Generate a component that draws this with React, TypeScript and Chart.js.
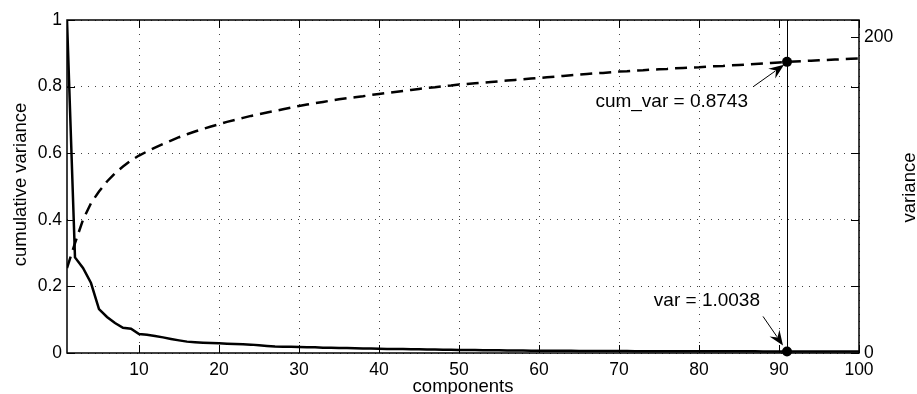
import React, { useEffect, useRef } from 'react';
import { Chart, registerables } from 'chart.js';

Chart.register(...registerables);

// ---- data ----
const components: number[] = Array.from({ length: 100 }, (_, i) => i + 1);

const cumulativeVariance: number[] = [
  0.255, 0.33, 0.4, 0.45, 0.485, 0.515, 0.54, 0.56, 0.578, 0.593,
  0.605, 0.617, 0.628, 0.638, 0.648, 0.657, 0.665, 0.673, 0.68, 0.687,
  0.694, 0.7, 0.706, 0.712, 0.717, 0.722, 0.727, 0.732, 0.737, 0.742,
  0.746, 0.75, 0.754, 0.758, 0.762, 0.765, 0.768, 0.771, 0.775, 0.778,
  0.781, 0.784, 0.787, 0.79, 0.793, 0.796, 0.798, 0.801, 0.803, 0.806,
  0.808, 0.81, 0.812, 0.814, 0.816, 0.818, 0.82, 0.822, 0.824, 0.826,
  0.828, 0.83, 0.832, 0.834, 0.836, 0.838, 0.84, 0.841, 0.843, 0.845,
  0.846, 0.848, 0.849, 0.851, 0.852, 0.853, 0.855, 0.856, 0.857, 0.858,
  0.86, 0.861, 0.862, 0.864, 0.865, 0.8665, 0.868, 0.8695, 0.871, 0.8727,
  0.8743, 0.8755, 0.8767, 0.8779, 0.879, 0.8801, 0.8812, 0.8823, 0.8834, 0.8845,
];

const variance: number[] = [
  210.8, 60.5, 53.8, 44.3, 27.8, 22.8, 19.0, 16.0, 15.4, 12.0,
  11.6, 10.8, 9.9, 8.9, 8.0, 7.2, 6.8, 6.5, 6.3, 6.1,
  5.9, 5.7, 5.5, 5.3, 4.9, 4.5, 4.1, 4.0, 3.9, 3.8,
  3.7, 3.6, 3.4, 3.3, 3.2, 3.1, 3.0, 2.9, 2.8, 2.7,
  2.6, 2.55, 2.5, 2.4, 2.3, 2.2, 2.15, 2.1, 2.0, 1.95,
  1.9, 1.85, 1.8, 1.75, 1.7, 1.65, 1.6, 1.55, 1.5, 1.45,
  1.42, 1.4, 1.38, 1.35, 1.33, 1.3, 1.28, 1.25, 1.23, 1.21,
  1.19, 1.18, 1.16, 1.15, 1.14, 1.12, 1.11, 1.1, 1.09, 1.08,
  1.07, 1.06, 1.05, 1.05, 1.04, 1.03, 1.03, 1.02, 1.01, 1.01,
  1.0038, 0.99, 0.98, 0.97, 0.96, 0.95, 0.93, 0.92, 0.9, 0.88,
];

const xTicks: number[] = [10, 20, 30, 40, 50, 60, 70, 80, 90, 100];
const leftTicks: number[] = [0, 0.2, 0.4, 0.6, 0.8, 1];
const leftTickLabels: string[] = ['0', '0.2', '0.4', '0.6', '0.8', '1'];
const rightTicks: number[] = [0, 200];
const rightAxisMax = 210.8;

const selectedComponent = 91;
const selectedCum = 0.8743;
const selectedVar = 1.0038;
const cumLabel = 'cum_var = 0.8743';
const varLabel = 'var = 1.0038';

const xTitle = 'components';
const leftTitle = 'cumulative variance';
const rightTitle = 'variance';

const FONT = "'Liberation Sans', Arial, Helvetica, sans-serif";

function drawArrow(ctx: CanvasRenderingContext2D, x0: number, y0: number, x1: number, y1: number) {
  const L = 15;
  const W = 6;
  const ang = Math.atan2(y1 - y0, x1 - x0);
  const c = Math.cos(ang);
  const s = Math.sin(ang);
  ctx.beginPath();
  ctx.moveTo(x0, y0);
  ctx.lineTo(x1 - c * L * 0.7, y1 - s * L * 0.7);
  ctx.stroke();
  ctx.beginPath();
  ctx.moveTo(x1, y1);
  ctx.lineTo(x1 - L * c + W * s, y1 - L * s - W * c);
  ctx.lineTo(x1 - 0.65 * L * c, y1 - 0.65 * L * s);
  ctx.lineTo(x1 - L * c - W * s, y1 - L * s + W * c);
  ctx.closePath();
  ctx.fill();
}

const overlay = {
  id: 'overlay',
  beforeDatasetsDraw(chart: any) {
    const { ctx, chartArea: a, scales } = chart;
    const px = Math.round(scales.x.getPixelForValue(selectedComponent)) + 0.5;
    ctx.save();
    ctx.strokeStyle = '#000';
    ctx.lineWidth = 1;
    ctx.beginPath();
    ctx.moveTo(px, a.top);
    ctx.lineTo(px, a.bottom);
    ctx.stroke();
    ctx.restore();
  },
  afterDatasetsDraw(chart: any) {
    const { ctx, chartArea: a, scales } = chart;
    ctx.save();
    ctx.strokeStyle = '#000';
    ctx.fillStyle = '#000';
    // frame
    ctx.lineWidth = 1.5;
    ctx.strokeRect(a.left, a.top, a.right - a.left, a.bottom - a.top);
    // inward ticks
    ctx.lineWidth = 1;
    const T = 8;
    ctx.beginPath();
    xTicks.forEach((v) => {
      const x = Math.round(scales.x.getPixelForValue(v)) + 0.5;
      ctx.moveTo(x, a.bottom);
      ctx.lineTo(x, a.bottom - T);
      ctx.moveTo(x, a.top);
      ctx.lineTo(x, a.top + T);
    });
    leftTicks.forEach((v) => {
      const y = Math.round(scales.y.getPixelForValue(v)) + 0.5;
      ctx.moveTo(a.left, y);
      ctx.lineTo(a.left + T, y);
      ctx.moveTo(a.right, y);
      ctx.lineTo(a.right - T, y);
    });
    rightTicks.forEach((v) => {
      const y = Math.round(scales.y1.getPixelForValue(v)) + 0.5;
      ctx.moveTo(a.right, y);
      ctx.lineTo(a.right - T, y);
    });
    ctx.stroke();

    // annotations
    const px = scales.x.getPixelForValue(selectedComponent);
    const pyCum = scales.y.getPixelForValue(selectedCum);
    const pyVar = scales.y1.getPixelForValue(selectedVar);
    ctx.lineWidth = 1;
    drawArrow(ctx, px - 34, pyCum + 25, px - 3, pyCum + 3);
    drawArrow(ctx, px - 24, pyVar - 35, px - 4, pyVar - 6);

    ctx.font = `19px ${FONT}`;
    ctx.textAlign = 'right';
    ctx.textBaseline = 'middle';
    ctx.fillText(cumLabel, px - 39, pyCum + 40);
    ctx.fillText(varLabel, px - 27, pyVar - 51);

    // axis titles
    ctx.font = `18.5px ${FONT}`;
    ctx.textAlign = 'center';
    ctx.textBaseline = 'alphabetic';
    ctx.fillText(xTitle, (a.left + a.right) / 2, 391.5);

    const cy = (a.top + a.bottom) / 2;
    ctx.save();
    ctx.translate(25.5, cy - 2);
    ctx.rotate(-Math.PI / 2);
    ctx.fillText(leftTitle, 0, 0);
    ctx.restore();

    ctx.save();
    ctx.translate(914.5, cy + 1);
    ctx.rotate(-Math.PI / 2);
    ctx.fillText(rightTitle, 0, 0);
    ctx.restore();

    ctx.restore();
  },
};

export default function App() {
  const canvasRef = useRef<HTMLCanvasElement | null>(null);

  useEffect(() => {
    const canvas = canvasRef.current;
    if (!canvas) return;
    const tickFont = { family: FONT, size: 17.5 };
    const gridColor = '#444';
    const chart = new Chart(canvas, {
      type: 'line',
      data: {
        datasets: [
          {
            label: 'cumulative variance',
            data: components.map((c, i) => ({ x: c, y: cumulativeVariance[i] })),
            yAxisID: 'y',
            borderColor: '#000',
            borderWidth: 2.5,
            borderDash: [12, 7],
            pointRadius: 0,
            fill: false,
            tension: 0,
          },
          {
            label: 'variance',
            data: components.map((c, i) => ({ x: c, y: variance[i] })),
            yAxisID: 'y1',
            borderColor: '#000',
            borderWidth: 2.5,
            pointRadius: 0,
            fill: false,
            tension: 0,
          },
          {
            label: 'cum marker',
            data: [{ x: selectedComponent, y: selectedCum }],
            yAxisID: 'y',
            showLine: false,
            pointRadius: 5,
            pointBackgroundColor: '#000',
            pointBorderColor: '#000',
            pointBorderWidth: 0,
            clip: false,
          } as any,
          {
            label: 'var marker',
            data: [{ x: selectedComponent, y: selectedVar }],
            yAxisID: 'y1',
            showLine: false,
            pointRadius: 5,
            pointBackgroundColor: '#000',
            pointBorderColor: '#000',
            pointBorderWidth: 0,
            clip: false,
          } as any,
        ],
      },
      options: {
        responsive: false,
        animation: false,
        devicePixelRatio: 1,
        layout: { padding: { top: 20, left: 0, right: 0, bottom: 0 } },
        plugins: { legend: { display: false }, tooltip: { enabled: false } },
        events: [],
        scales: {
          x: {
            type: 'linear',
            position: 'bottom',
            min: 1,
            max: 100,
            afterBuildTicks: (scale: any) => {
              scale.ticks = xTicks.map((v) => ({ value: v }));
            },
            afterFit: (scale: any) => {
              scale.height = 41;
            },
            ticks: {
              font: tickFont,
              color: '#000',
              padding: 7,
              maxRotation: 0,
              autoSkip: false,
            },
            grid: { color: gridColor, lineWidth: 1, drawTicks: false },
            border: { display: false, dash: [1, 6] },
          },
          y: {
            type: 'linear',
            position: 'left',
            min: 0,
            max: 1,
            afterBuildTicks: (scale: any) => {
              scale.ticks = leftTicks.map((v) => ({ value: v }));
            },
            afterFit: (scale: any) => {
              scale.width = 67;
            },
            ticks: {
              font: tickFont,
              color: '#000',
              padding: 5,
              callback: (_v: any, i: number) => leftTickLabels[i],
            },
            grid: { color: gridColor, lineWidth: 1, drawTicks: false },
            border: { display: false, dash: [1, 6] },
          },
          y1: {
            type: 'linear',
            position: 'right',
            min: 0,
            max: rightAxisMax,
            afterBuildTicks: (scale: any) => {
              scale.ticks = rightTicks.map((v) => ({ value: v }));
            },
            afterFit: (scale: any) => {
              scale.width = 58;
            },
            ticks: { font: tickFont, color: '#000', padding: 5 },
            grid: { display: false, drawTicks: false },
            border: { display: false },
          },
        },
      } as any,
      plugins: [overlay],
    });
    return () => chart.destroy();
  }, []);

  return (
    <div style={{ position: 'absolute', left: 0, top: 0, width: 917, height: 394, background: '#fff' }}>
      <canvas ref={canvasRef} width={917} height={394} />
    </div>
  );
}
